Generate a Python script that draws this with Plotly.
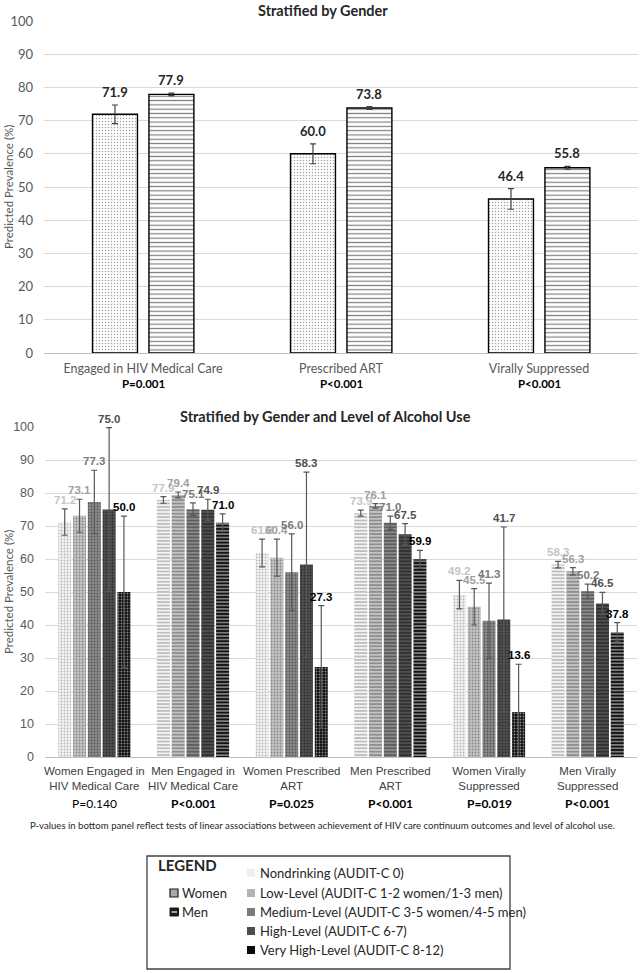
import plotly.graph_objects as go

# ---------------- DATA ----------------
top_categories = ["Engaged in HIV Medical Care", "Prescribed ART", "Virally Suppressed"]
top_pvalues = ["P=0.001", "P<0.001", "P<0.001"]
women_values = [71.9, 60.0, 46.4]
women_err = [2.8, 3.0, 3.1]
men_values = [77.9, 73.8, 55.8]
men_err = [0.4, 0.4, 0.4]

bottom_categories = ["Women Engaged in<br>HIV Medical Care", "Men Engaged in<br>HIV Medical Care",
                     "Women Prescribed<br>ART", "Men Prescribed<br>ART",
                     "Women Virally<br>Suppressed", "Men Virally<br>Suppressed"]
bottom_pvalues = ["P=0.140", "P<0.001", "P=0.025", "P<0.001", "P=0.019", "P<0.001"]
bottom_pvalue_bold = [False, True, True, True, True, True]
bottom_gender = ["Women", "Men", "Women", "Men", "Women", "Men"]

levels = ["Nondrinking (AUDIT-C 0)", "Low-Level (AUDIT-C 1-2 women/1-3 men)",
          "Medium-Level (AUDIT-C 3-5 women/4-5 men)", "High-Level (AUDIT-C 6-7)",
          "Very High-Level (AUDIT-C 8-12)"]
nondrinking = [71.2, 77.9, 61.8, 73.9, 49.2, 58.3]
nondrinking_err = [4.0, 1.0, 4.2, 0.9, 4.3, 1.0]
low_level = [73.1, 79.4, 60.4, 76.1, 45.5, 56.3]
low_level_err = [5.0, 0.9, 5.6, 0.7, 5.5, 1.1]
medium_level = [77.3, 75.1, 56.0, 71.0, 41.3, 50.2]
medium_level_err = [9.6, 1.9, 11.6, 2.0, 11.4, 2.2]
high_level = [75.0, 74.9, 58.3, 67.5, 41.7, 46.5]
high_level_err = [24.8, 3.2, 28.0, 3.2, 28.0, 3.4]
very_high_level = [50.0, 71.0, 27.3, 59.9, 13.6, 37.8]
very_high_level_err = [23.0, 2.7, 18.6, 2.7, 14.5, 2.9]

footnote = ("P-values in bottom panel reflect tests of linear associations between "
            "achievement of HIV care continuum outcomes and level of alcohol use.")

# ---------------- STYLE ----------------
W, H = 640, 973
CAL = "Lato"
ARI = "Liberation Sans"
level_bg = ["#f4f4f4", "#c4c4c4", "#8a8a8a", "#505050", "#111111"]
level_fg = ["#7a7a7a", "#4a4a4a", "#262626", "#0a0a0a", "#ffffff"]
label_col = ["#c4c4c4", "#a0a0a0", "#7a7a7a", "#505050", "#000000"]
legend_sq = ["#eeeeee", "#b3b3b3", "#7a7a7a", "#4d4d4d", "#0a0a0a"]

def px_x(p):
    return p / W

def px_y(p):
    return 1 - p / H

fig = go.Figure()

# ---------------- TOP PANEL ----------------
top_w = 0.227
women_off = -0.255
men_off = 0.030
fig.add_trace(go.Bar(
    x=top_categories, y=women_values, name="Women", xaxis="x", yaxis="y",
    width=top_w, offset=women_off,
    marker=dict(color="white", line=dict(color="black", width=1.4),
                pattern=dict(shape=".", fgcolor="#404040", bgcolor="white", size=3, solidity=0.18)),
    error_y=dict(type="data", array=women_err, visible=True, color="#404040", thickness=1.2, width=3),
    showlegend=False))
fig.add_trace(go.Bar(
    x=top_categories, y=men_values, name="Men", xaxis="x", yaxis="y",
    width=top_w, offset=men_off,
    marker=dict(color="white", line=dict(color="black", width=1.4),
                pattern=dict(shape="-", fgcolor="black", bgcolor="white", size=4.3, solidity=0.28)),
    error_y=dict(type="data", array=men_err, visible=True, color="#404040", thickness=1.2, width=3),
    showlegend=False))

annotations = []
for i in range(len(top_categories)):
    for vals, errs, off in [(women_values, women_err, women_off), (men_values, men_err, men_off)]:
        annotations.append(dict(
            x=i + off + top_w / 2, y=vals[i] + errs[i], xref="x", yref="y",
            text="<b>%.1f</b>" % vals[i], showarrow=False, yanchor="bottom", yshift=3,
            font=dict(family=CAL, size=13, color="#262626")))
    annotations.append(dict(
        x=i, y=px_y(383), xref="x", yref="paper", text="<b>%s</b>" % top_pvalues[i],
        showarrow=False, yanchor="middle", font=dict(family=CAL, size=11.5, color="black")))

# ---------------- BOTTOM PANEL ----------------
level_vals = [nondrinking, low_level, medium_level, high_level, very_high_level]
level_errs = [nondrinking_err, low_level_err, medium_level_err, high_level_err, very_high_level_err]
shapes_by_gender = {"Women": ".", "Men": "-"}
for k, (vals, errs) in enumerate(zip(level_vals, level_errs)):
    pat_shape = [shapes_by_gender[g] for g in bottom_gender]
    pat_size = [3.0 if g == "Women" else 3.4 for g in bottom_gender]
    pat_sol = [0.3 if g == "Women" else 0.45 for g in bottom_gender]
    fig.add_trace(go.Bar(
        x=bottom_categories, y=vals, name=levels[k], xaxis="x2", yaxis="y2",
        marker=dict(color=level_bg[k], line=dict(width=0),
                    pattern=dict(shape=pat_shape, fgcolor=level_fg[k], bgcolor=level_bg[k],
                                 size=pat_size, solidity=pat_sol)),
        error_y=dict(type="data", array=errs, visible=True, color="#595959", thickness=1.2, width=3),
        showlegend=False))

bargap = 0.25
slot = (1 - bargap) / len(levels)
for k, (vals, errs) in enumerate(zip(level_vals, level_errs)):
    for i in range(len(bottom_categories)):
        annotations.append(dict(
            x=i + (k - (len(levels) - 1) / 2) * slot, y=vals[i] + errs[i], xref="x2", yref="y2",
            text="<b>%.1f</b>" % vals[i], showarrow=False, yanchor="bottom", yshift=1,
            font=dict(family=ARI, size=11.5, color=label_col[k])))

for i in range(len(bottom_categories)):
    t = bottom_pvalues[i]
    annotations.append(dict(
        x=i, y=px_y(803), xref="x2", yref="paper",
        text=("<b>%s</b>" % t) if bottom_pvalue_bold[i] else t,
        showarrow=False, yanchor="middle", font=dict(family=CAL, size=12, color="black")))

# titles
annotations.append(dict(x=px_x(323), y=px_y(10), xref="paper", yref="paper", showarrow=False,
                        text="<b>Stratified by Gender</b>", yanchor="middle",
                        font=dict(family=CAL, size=14.5, color="#262626")))
annotations.append(dict(x=px_x(325), y=px_y(416), xref="paper", yref="paper", showarrow=False,
                        text="<b>Stratified by Gender and Level of Alcohol Use</b>", yanchor="middle",
                        font=dict(family=CAL, size=14.5, color="#262626")))
for yc in (187, 592):
    annotations.append(dict(x=px_x(8), y=px_y(yc), xref="paper", yref="paper", showarrow=False,
                            text="Predicted Prevalence (%)", textangle=-90,
                            xanchor="center", yanchor="middle",
                            font=dict(family=CAL, size=11.5, color="#595959")))
annotations.append(dict(x=px_x(322), y=px_y(825), xref="paper", yref="paper", showarrow=False,
                        text=footnote, yanchor="middle",
                        font=dict(family=CAL, size=9.6, color="#262626")))

# ---------------- LEGEND (custom box) ----------------
shapes = [dict(type="rect", xref="paper", yref="paper",
               x0=px_x(147), x1=px_x(510), y0=px_y(969), y1=px_y(856),
               line=dict(color="#404040", width=1.3), fillcolor="rgba(0,0,0,0)")]
annotations.append(dict(x=px_x(156), y=px_y(865), xref="paper", yref="paper", showarrow=False,
                        text="<b>LEGEND</b>", xanchor="left", yanchor="middle",
                        font=dict(family=CAL, size=15, color="#262626")))
gender_rows = [("Women", 893), ("Men", 912)]
for g, yc in gender_rows:
    if g == "Women":
        shapes.append(dict(type="rect", xref="paper", yref="paper",
                           x0=px_x(170), x1=px_x(178), y0=px_y(yc + 4), y1=px_y(yc - 4),
                           line=dict(color="#1a1a1a", width=1.2), fillcolor="#a8a8a8"))
    else:
        shapes.append(dict(type="rect", xref="paper", yref="paper",
                           x0=px_x(170), x1=px_x(178.5), y0=px_y(yc + 4), y1=px_y(yc - 4),
                           line=dict(color="#1a1a1a", width=1), fillcolor="#1a1a1a"))
        shapes.append(dict(type="line", xref="paper", yref="paper",
                           x0=px_x(171.5), x1=px_x(177), y0=px_y(yc), y1=px_y(yc),
                           line=dict(color="white", width=1.2)))
    annotations.append(dict(x=px_x(180), y=px_y(yc), xref="paper", yref="paper", showarrow=False,
                            text=g, xanchor="left", yanchor="middle",
                            font=dict(family=CAL, size=13, color="#262626")))
level_rows = [873, 893, 912, 931, 950]
for k, yc in enumerate(level_rows):
    shapes.append(dict(type="rect", xref="paper", yref="paper",
                       x0=px_x(247), x1=px_x(255), y0=px_y(yc + 4), y1=px_y(yc - 4),
                       line=dict(width=0), fillcolor=legend_sq[k]))
    annotations.append(dict(x=px_x(257.5), y=px_y(yc), xref="paper", yref="paper", showarrow=False,
                            text=levels[k], xanchor="left", yanchor="middle",
                            font=dict(family=CAL, size=13, color="#262626")))

# ---------------- LAYOUT ----------------
grid = "#d9d9d9"
fig.update_layout(
    width=W, height=H, autosize=False,
    margin=dict(l=0, r=0, t=0, b=0, autoexpand=False),
    paper_bgcolor="white", plot_bgcolor="white",
    barmode="group", bargap=bargap, bargroupgap=0.12,
    showlegend=False,
    xaxis=dict(domain=[px_x(44), px_x(638)], anchor="y", type="category",
               showline=True, linecolor="#bfbfbf", linewidth=1, ticks="",
               tickfont=dict(family=CAL, size=12.5, color="#595959"), tickangle=0,
               ticklabelstandoff=4, automargin=False),
    yaxis=dict(domain=[px_y(353), px_y(21)], anchor="x", range=[0, 100], dtick=10,
               showgrid=True, gridcolor=grid, gridwidth=1, zeroline=False,
               tickfont=dict(family=CAL, size=13, color="#595959"),
               ticklabelstandoff=10, ticks="", automargin=False),
    xaxis2=dict(domain=[px_x(45), px_x(637)], anchor="y2", type="category",
                showline=True, linecolor="#bfbfbf", linewidth=1, ticks="",
                tickfont=dict(family=ARI, size=11.5, color="#404040"), tickangle=0,
                ticklabelstandoff=3, automargin=False),
    yaxis2=dict(domain=[px_y(757), px_y(427)], anchor="x2", range=[0, 100], dtick=10,
                showgrid=True, gridcolor=grid, gridwidth=1, zeroline=False,
                tickfont=dict(family=ARI, size=12.5, color="#595959"),
                ticklabelstandoff=10, ticks="", automargin=False),
    annotations=annotations,
    shapes=shapes,
)

fig.write_html("out.html", config={"displayModeBar": False},
               post_script="document.body.style.margin='0';")
